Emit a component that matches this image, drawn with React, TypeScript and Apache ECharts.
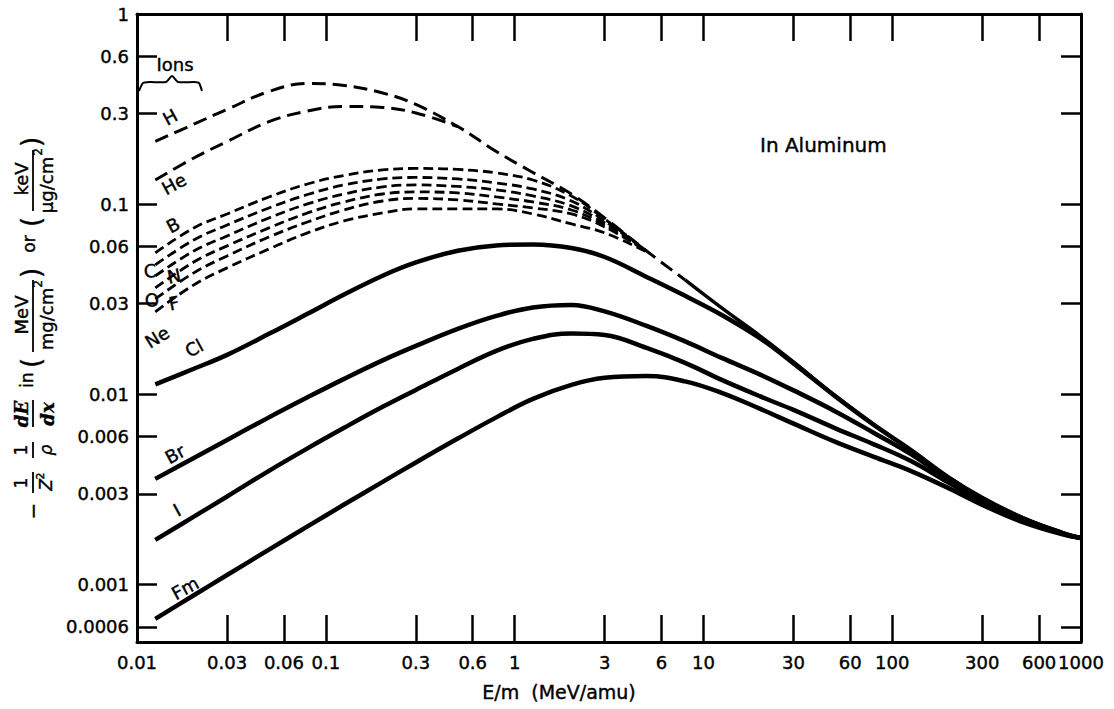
import { useEffect, useRef } from "react";
import * as echarts from "echarts";

// Energy grid (MeV/amu), roughly evenly spaced on the log axis
const energy = [0.0125, 0.02, 0.03, 0.05, 0.08, 0.125, 0.2, 0.3, 0.5, 0.8, 1.25, 2, 3, 5, 8, 12.5, 20, 30, 50, 80, 125, 200, 300, 500, 800, 1000];

// Tick labels
const xTicks = [0.01, 0.03, 0.06, 0.1, 0.3, 0.6, 1, 3, 6, 10, 30, 60, 100, 300, 600, 1000];
const yTicks = [0.0006, 0.001, 0.003, 0.006, 0.01, 0.03, 0.06, 0.1, 0.3, 0.6, 1];

// Dashed curves (light ions)
const ionH = [0.2138, 0.2636, 0.3152, 0.3915, 0.4312, 0.4209, 0.3845, 0.3345, 0.2561, 0.1894, 0.1469, 0.1132, 0.0847, 0.0568, 0.04];
const ionHe = [0.1341, 0.1751, 0.2138, 0.2716, 0.3092, 0.3266, 0.3226, 0.3019, 0.2561];
const ionB = [0.0555, 0.0751, 0.0889, 0.1092, 0.1278, 0.1417, 0.1514, 0.1542, 0.1524, 0.1461, 0.1341, 0.1105, 0.0837, 0.0568];
const ionC = [0.048, 0.0649, 0.0778, 0.0956, 0.1125, 0.1263, 0.1358, 0.1383, 0.1358, 0.1294, 0.1203, 0.104, 0.0817, 0.0568];
const ionN = [0.042, 0.0568, 0.0681, 0.0847, 0.1004, 0.1132, 0.1233, 0.1263, 0.124, 0.1189, 0.1105, 0.098, 0.0797, 0.0568];
const ionO = [0.0363, 0.0497, 0.0604, 0.0751, 0.09, 0.1028, 0.1132, 0.1161, 0.1147, 0.1092, 0.1028, 0.0933, 0.0778, 0.0568];
const ionF = [0.0318, 0.0436, 0.0535, 0.0673, 0.0807, 0.0933, 0.104, 0.1073, 0.1054, 0.1004, 0.0956, 0.0889, 0.076, 0.0565];
const ionNe = [0.0272, 0.0377, 0.0463, 0.0582, 0.0707, 0.0817, 0.09, 0.0945, 0.0945, 0.0945, 0.0889, 0.0788, 0.0707, 0.0562];

// Common high-energy branch (solid), from 8 MeV/amu on
const tailStart = 14;
const tail = [0.04, 0.0285, 0.0203, 0.01484, 0.00983, 0.00692, 0.00512, 0.00365, 0.00286, 0.00222, 0.00187, 0.00176];

// Solid curves (heavy ions); each joins the common branch where its own list ends
const ionCl = [0.01131, 0.01365, 0.01615, 0.02083, 0.02655, 0.03353, 0.0421, 0.04944, 0.05697, 0.06075, 0.06148, 0.0589, 0.0528, 0.0415, 0.033, 0.02619, 0.01972, 0.01457, 0.00977];
const ionBr = [0.0036, 0.00464, 0.00577, 0.00758, 0.00966, 0.01208, 0.01511, 0.018, 0.02212, 0.02588, 0.02869, 0.02957, 0.02733, 0.02293, 0.01901, 0.01557, 0.01272, 0.01051, 0.00815, 0.00628, 0.00487, 0.00356, 0.00283];
const ionI = [0.00172, 0.00228, 0.00291, 0.00397, 0.00521, 0.00668, 0.00861, 0.01057, 0.01363, 0.01695, 0.0196, 0.02095, 0.02057, 0.01758, 0.01466, 0.01193, 0.00977, 0.0083, 0.00664, 0.00547, 0.00448, 0.00343, 0.00274, 0.00218, 0.00185, 0.00176];
const ionFm = [0.000662, 0.00088, 0.001125, 0.001529, 0.002025, 0.002639, 0.003472, 0.004393, 0.005865, 0.007581, 0.009482, 0.01123, 0.01223, 0.01252, 0.01172, 0.0102, 0.0084, 0.00703, 0.00563, 0.0047, 0.00397, 0.00321, 0.00263, 0.00212, 0.00184, 0.00176];

const pairs = (vals: number[], start = 0) => vals.map((v, i) => [energy[start + i], v]);
// a heavy-ion curve continued along the common branch after it merges
const withTail = (vals: number[]) => {
  const own = pairs(vals);
  const rest = tail
    .map((v, i) => [energy[tailStart + i], v])
    .filter((p) => p[0] > energy[vals.length - 1]);
  return own.concat(rest);
};

const FONT = "DejaVu Sans";

function lbl(text: string, x: number, y: number, rot = 0, size = 18, extra: any = {}) {
  return {
    type: "text",
    x,
    y,
    rotation: rot,
    silent: true,
    style: {
      text,
      font: `${extra.italic ? "italic " : ""}${extra.bold ? "bold " : ""}${size}px ${extra.family || FONT}`,
      fill: "#000",
      stroke: "#000",
      lineWidth: extra.lw ?? 0.4,
      textAlign: extra.align || "center",
      textVerticalAlign: "middle",
      align: extra.align || "center",
      verticalAlign: "middle",
    },
  };
}

function bar(x1: number, x2: number, y: number) {
  return { type: "line", silent: true, shape: { x1, y1: y, x2, y2: y }, style: { stroke: "#000", lineWidth: 1.8 } };
}

export default function App() {
  const ref = useRef<HTMLDivElement>(null);
  useEffect(() => {
    if (!ref.current) return;
    const chart = echarts.init(ref.current, undefined, { renderer: "svg" });

    const dashedBig = { color: "#000", width: 3, type: [14, 7] as any };
    const dashedSmall = { color: "#000", width: 2.8, type: [10, 5] as any };
    const solid = { color: "#000", width: 4.5, type: "solid" as any };

    const mk = (name: string, data: any[], ls: any) => ({
      name,
      type: "line",
      data,
      smooth: 0.4,
      showSymbol: false,
      symbol: "none",
      silent: true,
      lineStyle: ls,
      xAxisIndex: 0,
      yAxisIndex: 0,
    });

    const axisCommon = {
      axisLine: { show: true, onZero: false, lineStyle: { color: "#000", width: 3 } },
      splitLine: { show: false },
      minorTick: { show: false },
      minorSplitLine: { show: false },
    };

    const fmt = (v: number) => String(v);
    const labelStyle = {
      color: "#000",
      fontFamily: FONT,
      fontSize: 18,
      textBorderColor: "#000",
      textBorderWidth: 0.4,
      hideOverlap: false,
    };

    // Y-axis title: rotated group (local x runs up the page)
    const num = -12;
    const den = 13;
    const yTitle = {
      type: "group",
      x: 33,
      y: 522,
      rotation: Math.PI / 2,
      children: [
        lbl("\u2212", 11, 0, 0, 20),
        lbl("1", 39, num, 0, 17),
        bar(29, 50, 0),
        lbl("Z", 37, den, 0, 17, { italic: true }),
        lbl("2", 46, den - 6, 0, 11),
        lbl("1", 72, num, 0, 17),
        bar(64, 80, 0),
        lbl("\u03C1", 72, den, 0, 17, { italic: true }),
        lbl("dE", 108, num, 0, 18, { italic: true, bold: true, family: "DejaVu Serif" }),
        bar(95, 122, 0),
        lbl("dx", 108, den + 1, 0, 18, { italic: true, bold: true, family: "DejaVu Serif" }),
        lbl("in", 142, -6, 0, 17),
        lbl("(", 159, -2, 0, 26),
        lbl("MeV", 207, num, 0, 18),
        bar(170, 242, 0),
        lbl("mg/cm", 203, den, 0, 18),
        lbl("2", 238, den - 8, 0, 12),
        lbl(")", 249, -2, 0, 26),
        lbl("or", 278, -4, 0, 17),
        lbl("(", 300, -2, 0, 26),
        lbl("keV", 343, num, 0, 18),
        bar(311, 372, 0),
        lbl("\u03BCg/cm", 337, den, 0, 18),
        lbl("2", 370, den - 8, 0, 12),
        lbl(")", 380, -2, 0, 26),
      ],
    };

    const R = 0.5;
    const graphics: any[] = [
      yTitle,
      lbl("E/m  (MeV/amu)", 559, 692, 0, 19),
      lbl("In Aluminum", 760, 145, 0, 20, { align: "left" }),
      lbl("Ions", 175, 64, 0, 18),
      {
        type: "polyline",
        silent: true,
        shape: { points: [[139, 91], [143, 83], [150, 82], [166, 82], [172, 76], [178, 82], [194, 82], [199, 83], [202, 91]], smooth: 0.2 },
        style: { stroke: "#000", lineWidth: 2, fill: null },
      },
      lbl("H", 170, 117, R, 18),
      lbl("He", 174, 184, R, 18),
      lbl("B", 173, 225, R, 18),
      lbl("C", 150, 271, 0.1, 18),
      lbl("N", 174, 276, 0.2, 18),
      lbl("O", 152, 300, 0.1, 18),
      lbl("F", 174, 303, 0.2, 18),
      lbl("Ne", 157, 337, 0.55, 18),
      lbl("Cl", 194, 348, R, 18),
      lbl("Br", 175, 454, R, 18),
      lbl("I", 177, 510, R, 18),
      lbl("Fm", 185, 588, R, 18),
    ];

    const xAxisBase = {
      type: "log",
      logBase: 10,
      min: 0.01,
      max: 1000,
      ...axisCommon,
      axisTick: { show: true, inside: true, length: 27, lineStyle: { color: "#000", width: 2.5 }, customValues: xTicks },
    };
    const yAxisBase = {
      type: "log",
      logBase: 10,
      min: 0.0005,
      max: 1,
      ...axisCommon,
      axisTick: { show: true, inside: true, length: 20, lineStyle: { color: "#000", width: 2.5 }, customValues: yTicks },
    };

    const option: any = {
      animation: false,
      backgroundColor: "#fff",
      grid: { left: 137, right: 33, top: 14, bottom: 67, containLabel: false },
      xAxis: [
        { ...xAxisBase, position: "bottom", axisLabel: { show: true, customValues: xTicks, formatter: fmt, margin: 11, ...labelStyle } },
        { ...xAxisBase, position: "top", axisLabel: { show: false } },
      ],
      yAxis: [
        { ...yAxisBase, position: "left", axisLabel: { show: true, customValues: yTicks, formatter: fmt, margin: 8, ...labelStyle } },
        { ...yAxisBase, position: "right", axisLabel: { show: false } },
      ],
      series: [
        mk("H", pairs(ionH), dashedBig),
        mk("He", pairs(ionHe), dashedBig),
        mk("B", pairs(ionB), dashedSmall),
        mk("C", pairs(ionC), dashedSmall),
        mk("N", pairs(ionN), dashedSmall),
        mk("O", pairs(ionO), dashedSmall),
        mk("F", pairs(ionF), dashedSmall),
        mk("Ne", pairs(ionNe), dashedSmall),
        mk("common", pairs(tail, tailStart), { color: "#000", width: 3.4, type: "solid" }),
        mk("Cl", withTail(ionCl), solid),
        mk("Br", withTail(ionBr), solid),
        mk("I", withTail(ionI), solid),
        mk("Fm", withTail(ionFm), solid),
      ],
      graphic: { elements: graphics },
    };

    chart.setOption(option);
    return () => chart.dispose();
  }, []);

  return (
    <div
      ref={ref}
      style={{ position: "absolute", left: 0, top: 0, width: 1114, height: 709, background: "#fff" }}
    />
  );
}
